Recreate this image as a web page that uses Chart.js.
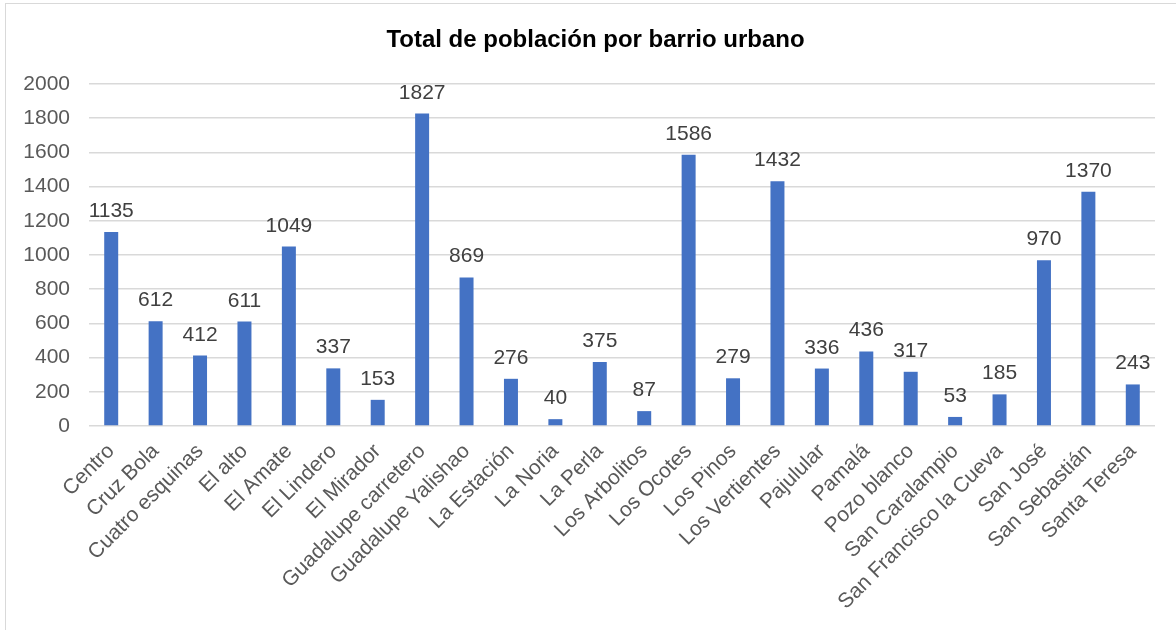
<!DOCTYPE html>
<html>
<head>
<meta charset="utf-8">
<script src="https://cdn.jsdelivr.net/npm/chart.js@4.4.1/dist/chart.umd.min.js"></script>
<style>
  html, body { margin: 0; padding: 0; background: #ffffff; overflow: hidden; }
  #frame { position: absolute; left: 5px; top: 3px; width: 1300px; height: 800px; border: 1.5px solid #d9d9d9; box-sizing: border-box; }
  #wrap { position: absolute; left: 0; top: 0; width: 1176px; height: 630px; }
</style>
</head>
<body>
<div id="frame"></div>
<div id="wrap"><canvas id="c" width="1176" height="630"></canvas></div>
<script>
const categories = ["Centro", "Cruz Bola", "Cuatro esquinas", "El alto", "El Amate", "El Lindero", "El Mirador", "Guadalupe carretero", "Guadalupe Yalishao", "La Estación", "La Noria", "La Perla", "Los Arbolitos", "Los Ocotes", "Los Pinos", "Los Vertientes", "Pajulular", "Pamalá", "Pozo blanco", "San Caralampio", "San Francisco la Cueva", "San José", "San Sebastián", "Santa Teresa"];
const poblacion = [1135, 612, 412, 611, 1049, 337, 153, 1827, 869, 276, 40, 375, 87, 1586, 279, 1432, 336, 436, 317, 53, 185, 970, 1370, 243];
const yTicks = [0, 200, 400, 600, 800, 1000, 1200, 1400, 1600, 1800, 2000];
const titleText = "Total de población por barrio urbano";

const FONT = "'Liberation Sans', Arial, sans-serif";

const dataLabels = {
  id: 'dataLabels',
  afterDatasetsDraw(chart) {
    const ctx = chart.ctx;
    const meta = chart.getDatasetMeta(0);
    ctx.save();
    ctx.font = "21px " + FONT;
    ctx.fillStyle = "#404040";
    ctx.textAlign = "center";
    ctx.textBaseline = "alphabetic";
    meta.data.forEach((bar, i) => {
      ctx.fillText(String(poblacion[i]), bar.x, bar.y - 15);
    });
    ctx.restore();
  }
};

const titlePlugin = {
  id: 'centerTitle',
  afterDraw(chart) {
    const ctx = chart.ctx;
    ctx.save();
    ctx.font = "bold 24px " + FONT;
    ctx.fillStyle = "#000000";
    ctx.textAlign = "center";
    ctx.textBaseline = "alphabetic";
    ctx.fillText(titleText, 595.5, 47);
    ctx.restore();
  }
};

new Chart(document.getElementById('c'), {
  type: 'bar',
  data: {
    labels: categories,
    datasets: [{
      data: poblacion,
      backgroundColor: '#4472C4',
      borderWidth: 0,
      barPercentage: 0.315,
      categoryPercentage: 1.0
    }]
  },
  options: {
    responsive: false,
    animation: false,
    events: [],
    layout: { padding: { left: 0, right: 21, top: 84, bottom: 0 } },
    plugins: {
      legend: { display: false },
      tooltip: { enabled: false },
      title: { display: false }
    },
    scales: {
      x: {
        grid: { display: false, drawTicks: false },
        border: { display: false },
        ticks: {
          color: '#595959',
          font: { family: FONT, size: 21 },
          maxRotation: 45,
          minRotation: 45,
          autoSkip: false,
          padding: 13
        },
        afterFit(scale) { scale.height = 204; }
      },
      y: {
        min: 0,
        max: 2000,
        afterBuildTicks(scale) { scale.ticks = yTicks.map(v => ({ value: v })); },
        grid: { color: '#d9d9d9', lineWidth: 1.5, drawTicks: false },
        border: { display: false },
        ticks: {
          color: '#595959',
          font: { family: FONT, size: 21 },
          padding: 19,
          callback: (v) => String(v)
        },
        afterFit(scale) { scale.width = 89; }
      }
    }
  },
  plugins: [dataLabels, titlePlugin]
});
</script>
</body>
</html>
